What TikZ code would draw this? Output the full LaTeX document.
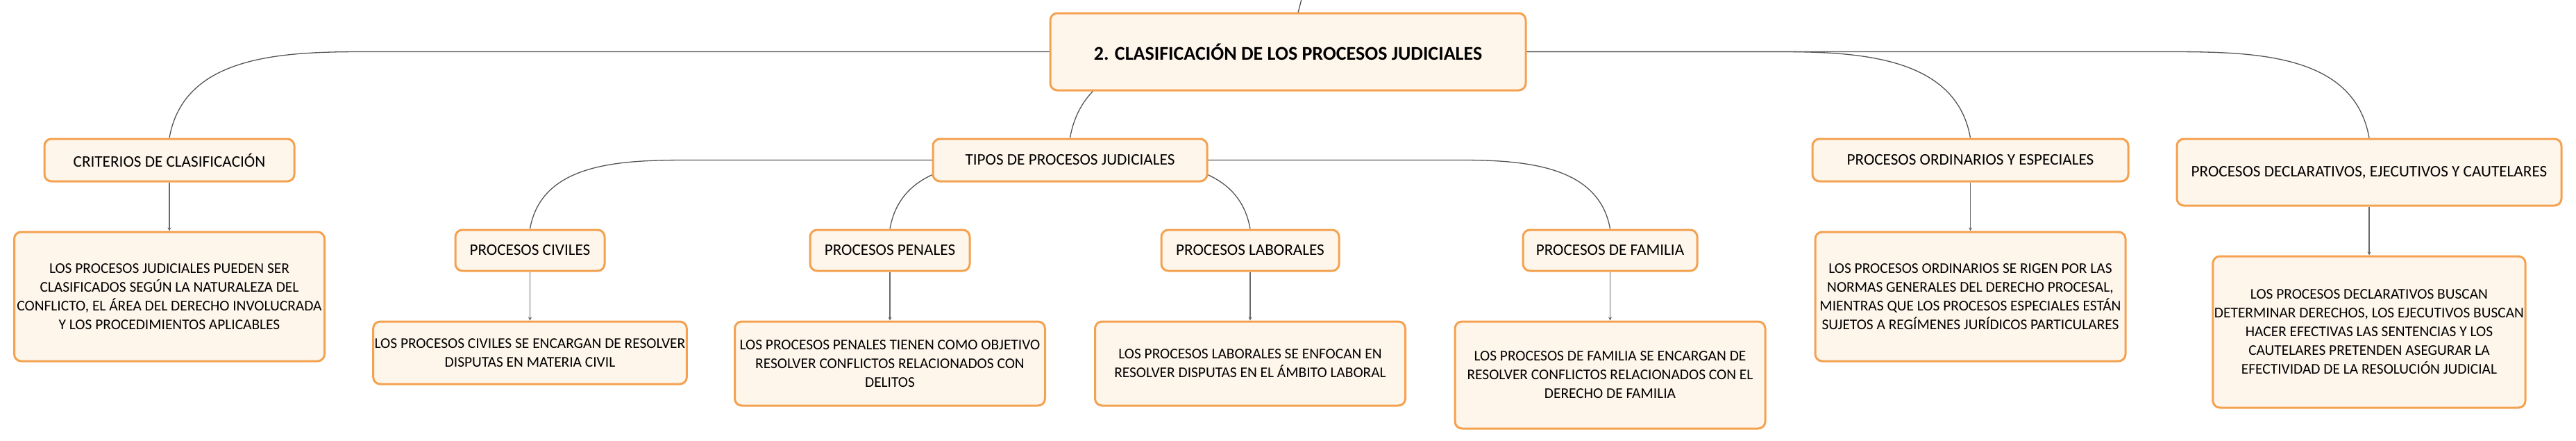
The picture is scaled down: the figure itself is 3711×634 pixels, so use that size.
\documentclass[tikz,border=0pt]{standalone}
\usepackage{fontspec}
\setmainfont{Carlito}
\usepackage{tikz}
\usetikzlibrary{positioning,calc,backgrounds,arrows.meta}

\definecolor{boxfill}{RGB}{254,245,235}
\definecolor{boxline}{RGB}{244,162,80}
\definecolor{linkgray}{RGB}{85,85,85}
\definecolor{dropgray}{RGB}{105,105,105}

\begin{document}
\begin{tikzpicture}[x=0.5pt,y=-0.5pt,node distance=35pt]
    \tikzstyle{topicbox}=[draw=boxline,fill=boxfill,line width=1.5pt,rounded corners=5pt,
        align=center,inner sep=1pt,font=\fontsize{11.6}{13.5}\selectfont,minimum height=30.5pt]
    \tikzstyle{mainbox}=[topicbox,font=\fontsize{14}{16}\selectfont\bfseries,
        minimum width=342.5pt,minimum height=55.5pt]
    \tikzstyle{detailbox}=[topicbox,font=\fontsize{10.7}{13.5}\selectfont,minimum width=223.5pt]
    \tikzstyle{link}=[draw=linkgray,line width=0.65pt]
    \tikzstyle{droplink}=[draw=dropgray,line width=0.8pt,-{Stealth[length=2.5pt,width=2.5pt]}]

    \useasboundingbox (0,0) rectangle (3711,634);

    \node[mainbox] (main) at (1855.5,74.5) {2. CLASIFICACIÓN DE LOS PROCESOS JUDICIALES};
    \coordinate (root) at (1885,-40);

    \node[topicbox,minimum width=180pt] (crit) at (244,230.5) {CRITERIOS DE CLASIFICACIÓN};
    \node[topicbox,minimum width=197.5pt] (tipos) at (1541.5,230.5) {TIPOS DE PROCESOS JUDICIALES};
    \node[topicbox,minimum width=227.5pt] (ord) at (2838.5,230.5) {PROCESOS ORDINARIOS Y ESPECIALES};
    \node[topicbox,minimum width=277pt,minimum height=48pt] (decl) at (3413,248)
        {PROCESOS DECLARATIVOS, EJECUTIVOS Y CAUTELARES};

    \node[topicbox,minimum width=107.5pt,minimum height=29.5pt] (civ) at (763.5,360.5) {PROCESOS CIVILES};
    \node[topicbox,minimum width=115pt,minimum height=29.5pt] (pen) at (1282,360.5) {PROCESOS PENALES};
    \node[topicbox,minimum width=128pt,minimum height=29.5pt] (lab) at (1801,360.5) {PROCESOS LABORALES};
    \node[topicbox,minimum width=125.5pt,minimum height=29.5pt] (fam) at (2319.5,360.5) {PROCESOS DE FAMILIA};

    \node[detailbox,minimum height=93pt] (dcrit) [below=of crit] {LOS PROCESOS JUDICIALES PUEDEN SER\\
        CLASIFICADOS SEGÚN LA NATURALEZA DEL\\CONFLICTO, EL ÁREA DEL DERECHO INVOLUCRADA\\
        Y LOS PROCEDIMIENTOS APLICABLES};
    \node[detailbox,minimum height=45pt] (dciv) [below=of civ] {LOS PROCESOS CIVILES SE ENCARGAN DE RESOLVER\\
        DISPUTAS EN MATERIA CIVIL};
    \node[detailbox,minimum height=60.5pt] (dpen) [below=of pen] {LOS PROCESOS PENALES TIENEN COMO OBJETIVO\\
        RESOLVER CONFLICTOS RELACIONADOS CON\\DELITOS};
    \node[detailbox,minimum height=60.5pt] (dlab) [below=of lab] {LOS PROCESOS LABORALES SE ENFOCAN EN\\
        RESOLVER DISPUTAS EN EL ÁMBITO LABORAL};
    \node[detailbox,minimum height=77pt] (dfam) [below=of fam] {LOS PROCESOS DE FAMILIA SE ENCARGAN DE\\
        RESOLVER CONFLICTOS RELACIONADOS CON EL\\DERECHO DE FAMILIA};
    \node[detailbox,minimum height=93pt] (dord) [below=of ord] {LOS PROCESOS ORDINARIOS SE RIGEN POR LAS\\
        NORMAS GENERALES DEL DERECHO PROCESAL,\\MIENTRAS QUE LOS PROCESOS ESPECIALES ESTÁN\\
        SUJETOS A REGÍMENES JURÍDICOS PARTICULARES};
    \node[detailbox,minimum height=109pt] (ddecl) [below=of decl] {LOS PROCESOS DECLARATIVOS BUSCAN\\
        DETERMINAR DERECHOS, LOS EJECUTIVOS BUSCAN\\HACER EFECTIVAS LAS SENTENCIAS Y LOS\\
        CAUTELARES PRETENDEN ASEGURAR LA\\EFECTIVIDAD DE LA RESOLUCIÓN JUDICIAL};

    \begin{scope}[on background layer]
        \fill[white] (0,0) rectangle (3711,634);
        % branches start at the parent's centre, hidden by the box
        \draw[link] (root) -- (main.center);
        \draw[link] (main.center) -- ($(crit.north |- main.center)+(280,0)$) to[out=180,in=80] (crit.north);
        \draw[link] (main.center) to[out=180,in=80] (tipos.north);
        \draw[link] (main.center) -- ($(ord.north |- main.center)+(-274,0)$) to[out=0,in=100] (ord.north);
        \draw[link] (main.center) -- ($(decl.north |- main.center)+(-300,0)$) to[out=0,in=100] (decl.north);
        \draw[link] (tipos.center) -- ($(civ.north |- tipos.center)+(230,0)$) to[out=180,in=80] (civ.north);
        \draw[link] (tipos.center) to[out=180,in=80] (pen.north);
        \draw[link] (tipos.center) to[out=0,in=100] (lab.north);
        \draw[link] (tipos.center) -- ($(fam.north |- tipos.center)+(-215,0)$) to[out=0,in=100] (fam.north);
    \end{scope}

    \draw[droplink] (crit) -- (dcrit);
    \draw[droplink] (civ) -- (dciv);
    \draw[droplink] (pen) -- (dpen);
    \draw[droplink] (lab) -- (dlab);
    \draw[droplink] (fam) -- (dfam);
    \draw[droplink] (ord) -- (dord);
    \draw[droplink] (decl) -- (ddecl);
\end{tikzpicture}
\end{document}
